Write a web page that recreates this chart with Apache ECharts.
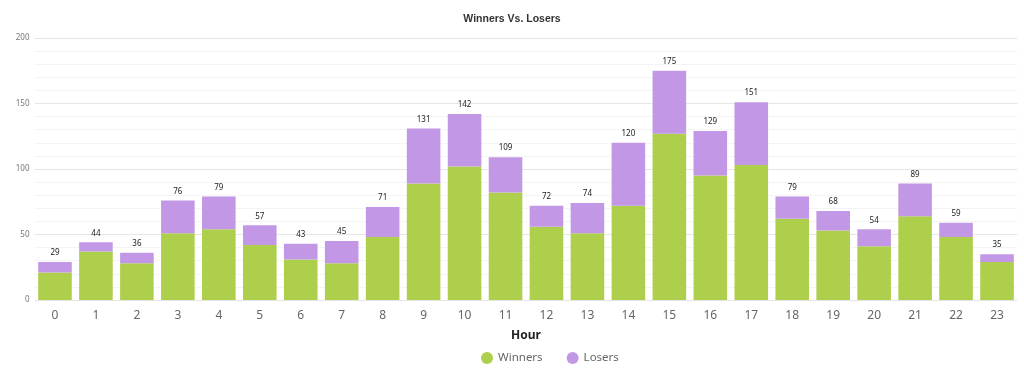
<!DOCTYPE html>
<html>
<head>
<meta charset="utf-8">
<script src="https://cdn.jsdelivr.net/npm/echarts@6/dist/echarts.min.js"></script>
<style>
html,body{margin:0;padding:0;background:#fff;}
#chart{width:1024px;height:381px;}
</style>
</head>
<body>
<div id="chart"></div>
<script>
var hours = ['0','1','2','3','4','5','6','7','8','9','10','11','12','13','14','15','16','17','18','19','20','21','22','23'];
var winners = [21,37,28,51,54,42,31,28,48,89,102,82,56,51,72,127,95,103,62,53,41,64,48,29];
var losers  = [8,7,8,25,25,15,12,17,23,42,40,27,16,23,48,48,34,48,17,15,13,25,11,6];
var yTicks = [0,50,100,150,200];

var chart = echarts.init(document.getElementById('chart'), null, {renderer:'canvas'});
chart.setOption({
  animation:false,
  backgroundColor:'#fff',
  title:{
    text:'Winners Vs. Losers',
    left:'center', top:9,
    textStyle:{fontFamily:'Liberation Sans', fontSize:10.5, fontWeight:'bold', color:'#333'}
  },
  legend:{
    bottom:12, left:476,
    icon:'circle', itemWidth:12, itemHeight:12, itemGap:24,
    textStyle:{fontFamily:'Noto Sans', fontSize:11.5, color:'#666'},
    data:['Winners','Losers']
  },
  grid:{left:34.5, right:6.5, top:38, height:262, containLabel:false},
  xAxis:{
    type:'category', data:hours,
    name:'Hour', nameLocation:'middle', nameGap:30,
    nameTextStyle:{fontFamily:'Noto Sans', fontSize:12, fontWeight:'bold', color:'#222'},
    axisLine:{show:false}, axisTick:{show:false},
    axisLabel:{fontFamily:'Noto Sans', fontSize:12, color:'#666', margin:10}
  },
  yAxis:{
    type:'value', min:yTicks[0], max:yTicks[yTicks.length-1], interval:50,
    axisLine:{show:false}, axisTick:{show:false},
    axisLabel:{fontFamily:'Noto Sans', fontSize:8, color:'#777', margin:5},
    splitLine:{lineStyle:{color:'#e6e6e6', width:1}},
    minorTick:{show:false, splitNumber:5},
    minorSplitLine:{show:true, lineStyle:{color:'#f4f4f4', width:1}}
  },
  series:[
    {
      name:'Winners', type:'bar', stack:'total', data:winners,
      barCategoryGap:'18%',
      itemStyle:{color:'#aecf4b'}
    },
    {
      name:'Losers', type:'bar', stack:'total', data:losers,
      barCategoryGap:'18%',
      itemStyle:{color:'#c298e6'},
      label:{
        show:true, position:'top', distance:5,
        fontFamily:'Noto Sans', fontSize:8, color:'#222',
        formatter:function(p){ return winners[p.dataIndex] + losers[p.dataIndex]; }
      }
    }
  ]
});
</script>
</body>
</html>
